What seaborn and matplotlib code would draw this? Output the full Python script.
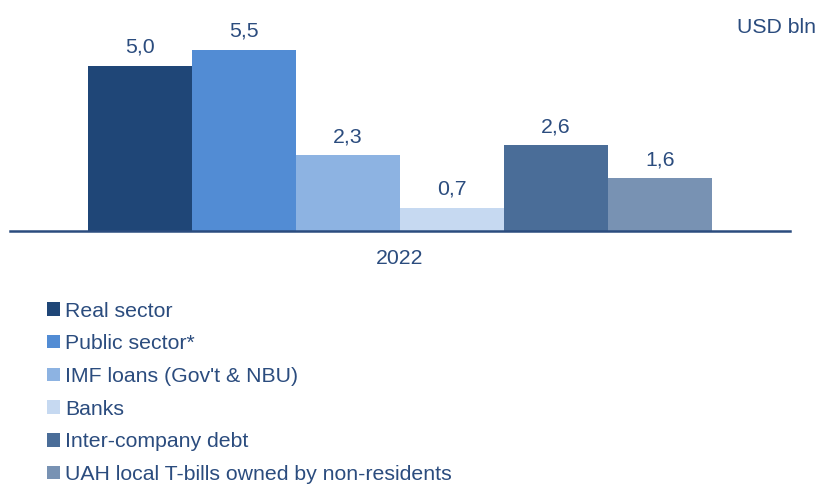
import matplotlib
matplotlib.use("Agg")
import matplotlib.pyplot as plt
import matplotlib.patches as mpatches
import pandas as pd
import seaborn as sns

years = ["2022"]
series = ["Real sector", "Public sector*", "IMF loans (Gov't & NBU)", "Banks",
          "Inter-company debt", "UAH local T-bills owned by non-residents"]
values = [5.0, 5.5, 2.3, 0.7, 2.6, 1.6]
colors = ["#1F4677", "#528CD4", "#8DB3E2", "#C6D9F1", "#4A6D98", "#7892B3"]

TEXT = "#2B4C7E"
FS = 15.3

df = pd.DataFrame({"year": years * len(series), "series": series, "value": values})

sns.set_style("white")
plt.rcParams["font.family"] = ["Liberation Sans", "DejaVu Sans"]

fig = plt.figure(figsize=(8.18, 4.84), dpi=100)
ax = fig.add_axes([10 / 818, 1 - 231 / 484, 780 / 818, 231 / 484])

sns.barplot(data=df, x="year", y="value", hue="series", hue_order=series,
            palette=colors, width=0.8, saturation=1, legend=False,
            linewidth=0, ax=ax)

for cont, v in zip(ax.containers, values):
    ax.bar_label(cont, labels=[f"{v:.1f}".replace(".", ",")], padding=6.5,
                 fontsize=FS, color=TEXT)

ax.set_xlim(-0.5, 0.5)
ax.set_ylim(0, 7)
ax.set_xlabel("")
ax.set_ylabel("")
ax.set_yticks([])
ax.tick_params(axis="x", length=0, labelsize=FS, labelcolor=TEXT, pad=13)
for s in ["top", "right", "left"]:
    ax.spines[s].set_visible(False)
ax.spines["bottom"].set_color("#2B4C7E")
ax.spines["bottom"].set_linewidth(1.8)

fig.text(0.998, 0.944, "USD bln", ha="right", va="center", fontsize=FS, color=TEXT)

handles = [mpatches.Patch(facecolor=c, edgecolor="none") for c in colors]
leg = fig.legend(handles, series, loc="upper left", bbox_to_anchor=(0.058, 0.377),
                 frameon=False, fontsize=FS, handlelength=0.6, handleheight=0.6,
                 handletextpad=0.22, labelspacing=0.645, borderaxespad=0, borderpad=0)
for t in leg.get_texts():
    t.set_color(TEXT)

fig.savefig("out.png", dpi=100)
